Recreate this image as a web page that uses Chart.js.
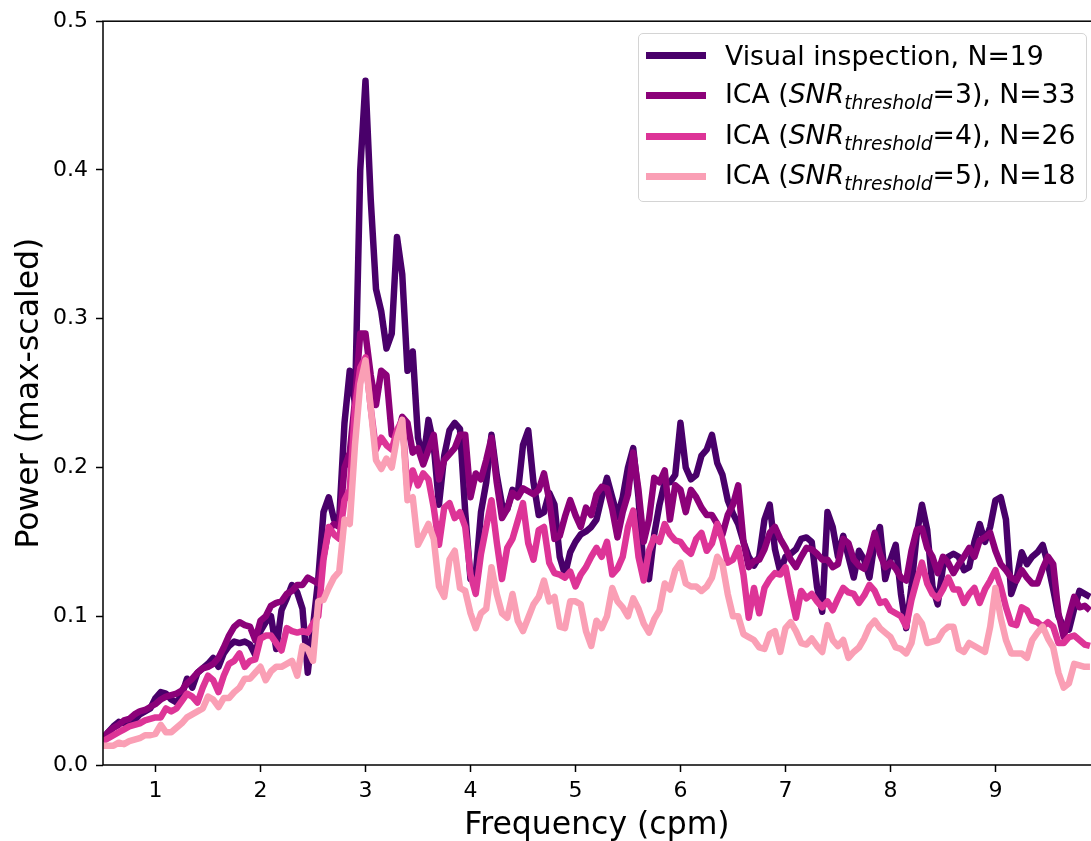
<!DOCTYPE html>
<html lang="en">
<head>
    <meta charset="UTF-8">
    <title>Power spectra</title>
    <script src="https://cdn.jsdelivr.net/npm/chart.js@4.4.1/dist/chart.umd.min.js"></script>
    <style>
        body {
            margin: 0;
            background: #fff;
            font-family: "DejaVu Sans", sans-serif;
        }
        #wrap {
            position: relative;
            width: 1091px;
            height: 841px;
            overflow: hidden;
        }
        #legend {
            position: absolute;
            left: 638px;
            top: 33px;
            width: 449px;
            height: 169px;
            box-sizing: border-box;
            border: 1.5px solid #d4d4d4;
            border-radius: 5px;
            background: rgba(255, 255, 255, 0.8);
            padding-top: 1px;
            font-size: 26.7px;
            color: #000;
        }
        .row {
            height: 40.5px;
            display: flex;
            align-items: center;
            white-space: nowrap;
        }
        .handle {
            width: 60px;
            height: 7px;
            margin-left: 7px;
            margin-right: 19px;
        }
        .row sub {
            font-size: 70%;
            vertical-align: -0.3em;
        }
    </style>
</head>
<body>
<div id="wrap">
    <canvas id="chart" width="1091" height="841"></canvas>
    <div id="legend"></div>
</div>
<script>
// spectra sampled every 0.05 cpm, from 0.5 to 9.9 cpm
const freqStart = 0.5;
const freqStep = 0.05;

const visual = [
    0.018, 0.022, 0.026, 0.029, 0.028, 0.027, 0.030, 0.034, 0.036, 0.038,
    0.045, 0.049, 0.048, 0.044, 0.042, 0.047, 0.058, 0.052, 0.062, 0.065,
    0.068, 0.072, 0.066, 0.075, 0.080, 0.083, 0.082, 0.083, 0.081, 0.074,
    0.090, 0.096, 0.100, 0.078, 0.104, 0.112, 0.121, 0.116, 0.105, 0.062,
    0.093, 0.125, 0.170, 0.180, 0.165, 0.166, 0.230, 0.265, 0.243, 0.400,
    0.460, 0.380, 0.320, 0.305, 0.280, 0.290, 0.355, 0.330, 0.265, 0.278,
    0.220, 0.205, 0.232, 0.215, 0.175, 0.208, 0.225, 0.230, 0.226, 0.170,
    0.125, 0.128, 0.170, 0.190, 0.222, 0.195, 0.175, 0.172, 0.185, 0.182,
    0.215, 0.225, 0.190, 0.168, 0.170, 0.183, 0.175, 0.140, 0.128, 0.143,
    0.150, 0.155, 0.157, 0.160, 0.165, 0.180, 0.193, 0.180, 0.167, 0.180,
    0.200, 0.213, 0.180, 0.130, 0.125, 0.155, 0.175, 0.190, 0.190, 0.195,
    0.230, 0.200, 0.192, 0.195, 0.208, 0.212, 0.222, 0.203, 0.195, 0.178,
    0.169, 0.162, 0.150, 0.140, 0.134, 0.140, 0.165, 0.175, 0.145, 0.130,
    0.140, 0.142, 0.145, 0.152, 0.153, 0.150, 0.120, 0.103, 0.170, 0.160,
    0.140, 0.154, 0.140, 0.126, 0.144, 0.138, 0.126, 0.150, 0.160, 0.125,
    0.138, 0.148, 0.115, 0.092, 0.120, 0.155, 0.175, 0.158, 0.120, 0.108,
    0.133, 0.140, 0.142, 0.140, 0.131, 0.133, 0.150, 0.162, 0.150, 0.160,
    0.178, 0.180, 0.165, 0.115, 0.125, 0.143, 0.135, 0.140, 0.143, 0.148,
    0.135, 0.118, 0.100, 0.093, 0.091, 0.105, 0.117, 0.115, 0.113
];

const ica3 = [
    0.018, 0.022, 0.025, 0.027, 0.030, 0.031, 0.034, 0.036, 0.037, 0.039,
    0.041, 0.044, 0.046, 0.047, 0.048, 0.050, 0.055, 0.058, 0.062, 0.065,
    0.066, 0.068, 0.072, 0.079, 0.087, 0.093, 0.096, 0.094, 0.093, 0.084,
    0.097, 0.100, 0.107, 0.109, 0.110, 0.115, 0.117, 0.121, 0.121, 0.126,
    0.124, 0.122, 0.140, 0.158, 0.162, 0.160, 0.200, 0.210, 0.245, 0.290,
    0.290, 0.262, 0.242, 0.265, 0.262, 0.222, 0.220, 0.234, 0.230, 0.210,
    0.213, 0.202, 0.212, 0.222, 0.192, 0.205, 0.209, 0.213, 0.222, 0.222,
    0.180, 0.196, 0.192, 0.205, 0.220, 0.190, 0.166, 0.172, 0.183, 0.180,
    0.186, 0.184, 0.182, 0.185, 0.196, 0.178, 0.152, 0.154, 0.167, 0.178,
    0.168, 0.160, 0.173, 0.168, 0.182, 0.187, 0.186, 0.172, 0.153, 0.170,
    0.182, 0.210, 0.185, 0.150, 0.165, 0.193, 0.190, 0.198, 0.165, 0.188,
    0.185, 0.170, 0.185, 0.180, 0.173, 0.168, 0.168, 0.162, 0.155, 0.168,
    0.175, 0.188, 0.150, 0.133, 0.137, 0.138, 0.145, 0.156, 0.160, 0.152,
    0.146, 0.138, 0.133, 0.140, 0.146, 0.145, 0.142, 0.138, 0.138, 0.133,
    0.135, 0.152, 0.149, 0.138, 0.134, 0.132, 0.142, 0.156, 0.142, 0.133,
    0.136, 0.132, 0.126, 0.124, 0.144, 0.158, 0.159, 0.146, 0.140, 0.129,
    0.140, 0.136, 0.129, 0.135, 0.140, 0.146, 0.140, 0.151, 0.153, 0.156,
    0.144, 0.135, 0.131, 0.126, 0.124, 0.131, 0.126, 0.122, 0.122, 0.132,
    0.140, 0.135, 0.102, 0.086, 0.100, 0.113, 0.106, 0.107, 0.104
];

const ica4 = [
    0.016, 0.018, 0.020, 0.022, 0.024, 0.026, 0.027, 0.028, 0.030, 0.031,
    0.032, 0.032, 0.038, 0.036, 0.038, 0.043, 0.048, 0.046, 0.042, 0.052,
    0.060, 0.057, 0.049, 0.060, 0.068, 0.070, 0.075, 0.066, 0.070, 0.071,
    0.085, 0.087, 0.087, 0.082, 0.077, 0.092, 0.090, 0.089, 0.090, 0.089,
    0.095, 0.100, 0.138, 0.160, 0.155, 0.152, 0.178, 0.185, 0.240, 0.267,
    0.274, 0.240, 0.212, 0.220, 0.215, 0.212, 0.225, 0.232, 0.185, 0.198,
    0.188, 0.196, 0.192, 0.173, 0.148, 0.173, 0.176, 0.166, 0.170, 0.160,
    0.128, 0.115, 0.142, 0.160, 0.178, 0.150, 0.125, 0.146, 0.152, 0.164,
    0.176, 0.149, 0.138, 0.158, 0.160, 0.136, 0.129, 0.128, 0.126, 0.130,
    0.120, 0.128, 0.133, 0.140, 0.146, 0.140, 0.150, 0.128, 0.132, 0.140,
    0.160, 0.171, 0.140, 0.124, 0.144, 0.153, 0.150, 0.162, 0.155, 0.151,
    0.150, 0.145, 0.142, 0.152, 0.156, 0.144, 0.149, 0.162, 0.151, 0.136,
    0.138, 0.146, 0.128, 0.099, 0.119, 0.102, 0.119, 0.125, 0.129, 0.128,
    0.133, 0.115, 0.099, 0.117, 0.112, 0.115, 0.110, 0.106, 0.110, 0.104,
    0.112, 0.119, 0.116, 0.115, 0.109, 0.114, 0.121, 0.117, 0.109, 0.110,
    0.104, 0.102, 0.100, 0.093, 0.111, 0.124, 0.136, 0.122, 0.115, 0.112,
    0.118, 0.126, 0.118, 0.118, 0.109, 0.115, 0.119, 0.109, 0.118, 0.124,
    0.131, 0.120, 0.106, 0.095, 0.094, 0.106, 0.104, 0.097, 0.096, 0.093,
    0.096, 0.093, 0.082, 0.082, 0.086, 0.087, 0.084, 0.081, 0.080
];

const ica5 = [
    0.013, 0.013, 0.013, 0.015, 0.014, 0.016, 0.017, 0.018, 0.020, 0.020,
    0.021, 0.027, 0.022, 0.022, 0.025, 0.028, 0.032, 0.034, 0.036, 0.038,
    0.046, 0.044, 0.039, 0.045, 0.045, 0.049, 0.052, 0.058, 0.058, 0.062,
    0.066, 0.057, 0.063, 0.066, 0.066, 0.068, 0.070, 0.060, 0.080, 0.078,
    0.070, 0.110, 0.111, 0.119, 0.126, 0.130, 0.165, 0.162, 0.215, 0.256,
    0.272, 0.240, 0.205, 0.199, 0.206, 0.200, 0.220, 0.232, 0.178, 0.180,
    0.148, 0.155, 0.162, 0.152, 0.120, 0.113, 0.138, 0.144, 0.119, 0.117,
    0.102, 0.092, 0.102, 0.105, 0.133, 0.115, 0.102, 0.099, 0.115, 0.097,
    0.090, 0.099, 0.108, 0.113, 0.124, 0.110, 0.113, 0.093, 0.092, 0.110,
    0.110, 0.108, 0.090, 0.080, 0.097, 0.092, 0.100, 0.119, 0.110, 0.106,
    0.100, 0.112, 0.105, 0.095, 0.089, 0.098, 0.104, 0.122, 0.118, 0.131,
    0.136, 0.122, 0.120, 0.120, 0.117, 0.120, 0.126, 0.140, 0.135, 0.115,
    0.100, 0.100, 0.088, 0.086, 0.084, 0.079, 0.078, 0.088, 0.090, 0.076,
    0.092, 0.096, 0.090, 0.082, 0.081, 0.085, 0.080, 0.076, 0.094, 0.084,
    0.080, 0.084, 0.072, 0.076, 0.079, 0.085, 0.093, 0.097, 0.092, 0.089,
    0.086, 0.079, 0.078, 0.075, 0.082, 0.100, 0.095, 0.082, 0.083, 0.084,
    0.090, 0.093, 0.093, 0.078, 0.076, 0.082, 0.080, 0.078, 0.076, 0.093,
    0.119, 0.099, 0.084, 0.075, 0.075, 0.075, 0.072, 0.084, 0.089, 0.093,
    0.085, 0.079, 0.062, 0.052, 0.055, 0.068, 0.067, 0.066, 0.066
];

const seriesNames = [
    'Visual inspection, N=19',
    'ICA (<i>SNR</i><sub><i>threshold</i></sub>=3), N=33',
    'ICA (<i>SNR</i><sub><i>threshold</i></sub>=4), N=26',
    'ICA (<i>SNR</i><sub><i>threshold</i></sub>=5), N=18'
];
const seriesColors = ['#49006a', '#8c0179', '#dd3497', '#fa9fb5'];
const xTicks = [1, 2, 3, 4, 5, 6, 7, 8, 9];
const yTicks = [0, 0.1, 0.2, 0.3, 0.4, 0.5];

const toPoints = arr => arr.map((v, i) => ({ x: freqStart + i * freqStep, y: v }));
const allSeries = [visual, ica3, ica4, ica5];

// matplotlib-like box round the axes
const frame = {
    id: 'frame',
    afterDraw(chart) {
        const { ctx, chartArea: a } = chart;
        ctx.save();
        ctx.strokeStyle = '#000';
        ctx.lineWidth = 1.5;
        ctx.strokeRect(a.left, a.top, a.right - a.left + 2, a.bottom - a.top);
        ctx.restore();
    }
};

new Chart(document.getElementById('chart'), {
    type: 'line',
    data: {
        datasets: allSeries.map((arr, k) => ({
            label: seriesNames[k],
            data: toPoints(arr),
            borderColor: seriesColors[k],
            borderWidth: 6.5,
            borderJoinStyle: 'round',
            borderCapStyle: 'butt',
            pointRadius: 0,
            tension: 0,
            fill: false,
            order: 4 - k
        }))
    },
    options: {
        responsive: false,
        animation: false,
        layout: { padding: { top: 20, right: 0, left: 0, bottom: 0 } },
        plugins: {
            legend: { display: false },
            tooltip: { enabled: false }
        },
        scales: {
            x: {
                type: 'linear',
                min: 0.5,
                max: 9.91,
                afterBuildTicks: s => { s.ticks = xTicks.map(v => ({ value: v })); },
                afterFit: s => { s.height = 76; },
                grid: { drawOnChartArea: false, tickLength: 7, tickWidth: 1.5, tickColor: '#000' },
                border: { display: false },
                ticks: {
                    color: '#000',
                    padding: 6,
                    maxRotation: 0,
                    font: { family: 'DejaVu Sans', size: 22 },
                    callback: v => String(v)
                },
                title: {
                    display: true,
                    text: 'Frequency (cpm)',
                    color: '#000',
                    padding: { top: 0, bottom: -4 },
                    font: { family: 'DejaVu Sans', size: 31.5 }
                }
            },
            y: {
                min: 0,
                max: 0.5,
                afterBuildTicks: s => { s.ticks = yTicks.map(v => ({ value: v })); },
                afterFit: s => { s.width = 103; },
                grid: { drawOnChartArea: false, tickLength: 7, tickWidth: 1.5, tickColor: '#000' },
                border: { display: false },
                ticks: {
                    color: '#000',
                    padding: 8,
                    font: { family: 'DejaVu Sans', size: 22 },
                    callback: v => v.toFixed(1)
                },
                title: {
                    display: true,
                    text: 'Power (max-scaled)',
                    color: '#000',
                    padding: { top: 11, bottom: 0 },
                    font: { family: 'DejaVu Sans', size: 31.5 }
                }
            }
        }
    },
    plugins: [frame]
});

// legend with italic subscripts, kept as html text
const legend = document.getElementById('legend');
seriesNames.forEach((name, k) => {
    const row = document.createElement('div');
    row.className = 'row';
    row.innerHTML = '<span class="handle" style="background:' + seriesColors[k] + '"></span><span>' + name + '</span>';
    legend.appendChild(row);
});
</script>
</body>
</html>
